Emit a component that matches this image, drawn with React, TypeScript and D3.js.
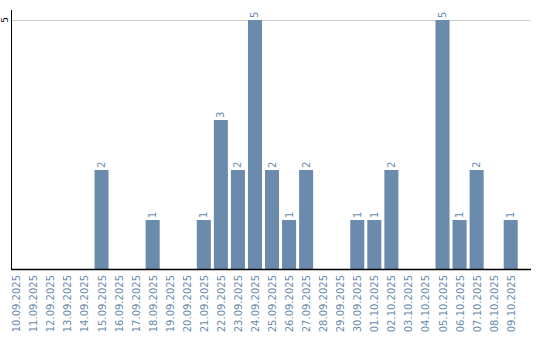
import React from "react";
import * as d3 from "d3";

const dates = [
  "10.09.2025","11.09.2025","12.09.2025","13.09.2025","14.09.2025","15.09.2025","16.09.2025","17.09.2025","18.09.2025","19.09.2025",
  "20.09.2025","21.09.2025","22.09.2025","23.09.2025","24.09.2025","25.09.2025","26.09.2025","27.09.2025","28.09.2025","29.09.2025",
  "30.09.2025","01.10.2025","02.10.2025","03.10.2025","04.10.2025","05.10.2025","06.10.2025","07.10.2025","08.10.2025","09.10.2025",
];
const values = [0,0,0,0,0,2,0,0,1,0, 0,1,3,2,5,2,1,2,0,0, 1,1,2,0,0,5,1,2,0,1];
const yTicks = [5];

const W = 540, H = 340;
const barColor = "#6a8bab";
const textColor = "#6a8bab";

export default function App() {
  const x = d3.scaleBand<string>().domain(dates).range([8.5, 518.5]).paddingInner(3 / 17).paddingOuter(1.5 / 17 / 2);
  const y = d3.scaleLinear().domain([0, 5]).range([270, 20]);
  const font = "DejaVu Sans, sans-serif";
  return (
    <svg width={W} height={H} style={{ position: "absolute", left: 0, top: 0 }}>
      {yTicks.map((t) => (
        <g key={t}>
          <line x1={11} x2={530} y1={y(t) + 0.5} y2={y(t) + 0.5} stroke="#cccccc" strokeWidth={1} />
          <text transform={`translate(8,${y(t)}) rotate(-90)`} textAnchor="middle" fontFamily={font} fontSize={9} fill="#000">{t}</text>
        </g>
      ))}
      {values.map((v, i) => {
        const bx = x(dates[i])!;
        return v > 0 ? (
          <g key={i}>
            <rect x={bx} y={y(v)} width={x.bandwidth()} height={y(0) - y(v)} fill={barColor} />
            <text transform={`translate(${bx + x.bandwidth() / 2 + 3.5},${y(v) - 2}) rotate(-90)`} textAnchor="start" fontFamily={font} fontSize={10} fill={textColor}>{v}</text>
          </g>
        ) : null;
      })}
      <line x1={11.5} x2={11.5} y1={10} y2={270} stroke="#000" strokeWidth={1} />
      <line x1={11} x2={531} y1={269.5} y2={269.5} stroke="#000" strokeWidth={1.5} />
      {dates.map((d) => (
        <text key={d} transform={`translate(${x(d)! + x.bandwidth() / 2 + 4},275) rotate(-90)`} textAnchor="end" fontFamily={font} fontSize={10} fill={textColor}>{d}</text>
      ))}
    </svg>
  );
}
